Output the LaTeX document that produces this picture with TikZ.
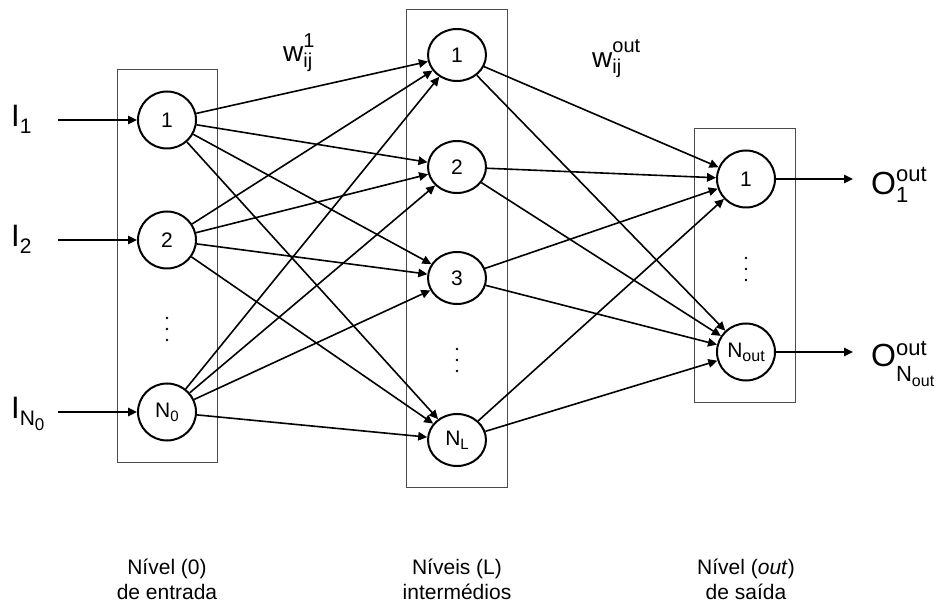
\documentclass[tikz,border=0pt]{standalone}
\usepackage{fontspec}
\setmainfont{Liberation Sans}
\usetikzlibrary{arrows.meta,shapes.geometric}
\newcommand\fs[1]{\fontsize{#1}{#1}\selectfont}
\begin{document}
\begin{tikzpicture}[x=1pt,y=-1pt,
 neuron/.style={draw, line width=2pt, ellipse, minimum width=58pt, minimum height=57pt, inner sep=0pt, font=\fs{21}},
 hidden/.style={neuron, minimum height=52pt},
 layerbox/.style={draw, line width=0.9pt, black!70},
 conn/.style={line width=1.6pt, -{Triangle[length=9pt,width=8.5pt]}},
 lbl/.style={inner sep=0pt, anchor=base west},
 caption/.style={font=\fontsize{21}{25}\selectfont, align=center, inner sep=0pt},
 dot/.style={fill=black, circle, inner sep=0pt, minimum size=2.8pt}]
\useasboundingbox (0,0) rectangle (943,612);
% layer boxes
\draw[layerbox] (117,69) rectangle (217,462);
\draw[layerbox] (406,9) rectangle (507,487);
\draw[layerbox] (694,128) rectangle (795,402);
% input layer
\node[neuron] (i1) at (167,120) {1};
\node[neuron] (i2) at (167,240) {2};
\node[neuron] (i3) at (167,412) {N\raisebox{-4pt}{\fs{15}0}};
% hidden layer
\node[hidden] (h1) at (457,55) {1};
\node[hidden] (h2) at (457,167) {2};
\node[hidden] (h3) at (457,278) {3};
\node[hidden] (hL) at (457,440) {N\raisebox{-4pt}{\fs{15}L}};
% output layer
\node[neuron] (o1) at (746,179) {1};
\node[neuron] (oN) at (746,352) {N\raisebox{-4pt}{\fs{16}out}};
% dots
\foreach \x/\y in {167/329, 457/360, 746/269}{
  \node[dot] at (\x,\y-11) {};
  \node[dot] at (\x,\y) {};
  \node[dot] at (\x,\y+11) {};
}
% input arrows and labels
\coordinate (s1) at (58,120);
\coordinate (s2) at (58,240);
\coordinate (s3) at (58,412);
\draw[conn] (s1) -- (i1);
\draw[conn] (s2) -- (i2);
\draw[conn] (s3) -- (i3);
\node[lbl] (l1) at (11,127) {\fs{31}I\raisebox{-7pt}{\fs{21}1}};
\node[lbl] (l2) at (11,247) {\fs{31}I\raisebox{-7pt}{\fs{21}2}};
\node[lbl] (l3) at (11,418) {\fs{31}I\raisebox{-7pt}{\fs{21}N\raisebox{-6pt}{\fs{17}0}}};
% input -> hidden
\foreach \a in {i1,i2,i3}{
  \foreach \b in {h1,h2,h3,hL}{
    \draw[conn] (\a) -- (\b);
  }
}
% hidden -> output
\foreach \a in {h1,h2,h3,hL}{
  \foreach \b in {o1,oN}{
    \draw[conn] (\a) -- (\b);
  }
}
% output arrows and labels
\coordinate (t1) at (853,179);
\coordinate (t2) at (853,352);
\draw[conn] (o1) -- (t1);
\draw[conn] (oN) -- (t2);
\node[lbl] (r1) at (871,195) {\fs{32}O\rlap{\raisebox{13pt}{\fs{22}out}}\raisebox{-8pt}{\fs{22}1}};
\node[lbl] (r2) at (871,367) {\fs{32}O\rlap{\raisebox{12pt}{\fs{22}out}}\raisebox{-15pt}{\fs{22}N\raisebox{-5pt}{\fs{16}out}}};
% weights
\node[lbl] (w1) at (283,62) {\fs{28}w\rlap{\raisebox{14pt}{\fs{20}1}}\raisebox{-6pt}{\fs{20}ij}};
\node[lbl] (w2) at (592,68) {\fs{28}w\rlap{\raisebox{15pt}{\fs{20}out}}\raisebox{-6pt}{\fs{20}ij}};
% captions
\node[caption] (c1) at (167,579) {Nível (0)\\de entrada};
\node[caption] (c2) at (457,579) {Níveis (L)\\intermédios};
\node[caption] (c3) at (746,579) {Nível (\textit{out})\\de saída};
\end{tikzpicture}
\end{document}
